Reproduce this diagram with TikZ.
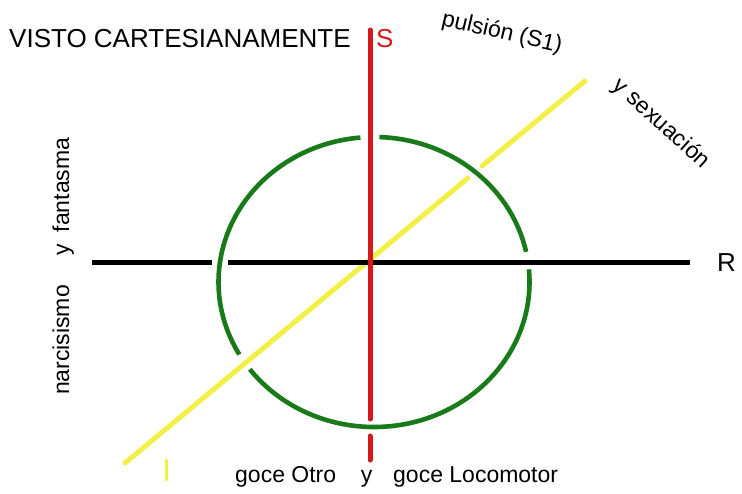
\documentclass[tikz,border=0pt]{standalone}
\usepackage{fontspec}
\setmainfont{Liberation Sans}
\definecolor{rojoS}{RGB}{214,24,28}
\definecolor{verdeO}{RGB}{24,122,24}
\definecolor{amarillo}{RGB}{242,240,70}
\tikzset{
  eje/.style={line width=5pt},
  rotulo/.style={font=\fontsize{23}{25}\selectfont, inner sep=0pt},
  titulo/.style={font=\fontsize{26}{29}\selectfont, inner sep=0pt},
}

\begin{document}
\begin{tikzpicture}[x=1pt,y=-1pt]
\useasboundingbox (0,0) rectangle (742,493);
% puntos de los ejes
\coordinate (Yi) at (125,463);
\coordinate (Ya) at (468,178);
\coordinate (Yb) at (482,166);
\coordinate (Yf) at (585,81);
\coordinate (Ri) at (92,262);
\coordinate (Ra) at (212,262);
\coordinate (Rb) at (228,262);
\coordinate (Rf) at (690,262);
\coordinate (Si) at (370,30);
\coordinate (Sa) at (370,419);
\coordinate (Sb) at (370,436);
\coordinate (Sf) at (370,460);
% el nudo verde, cortado donde pasa por debajo
\draw[eje, verdeO, line width=4.6pt] (374,282) ++(-88:155.5 and 145) arc[start angle=-88, end angle=-12, x radius=155.5, y radius=145];
\draw[eje, verdeO, line width=4.6pt] (374,282) ++(-5:155.5 and 145) arc[start angle=-5, end angle=143, x radius=155.5, y radius=145];
\draw[eje, verdeO, line width=4.6pt] (374,282) ++(150:155.5 and 145) arc[start angle=150, end angle=265, x radius=155.5, y radius=145];
% ejes
\draw[eje, amarillo, line cap=round] (Yi) -- (Ya) (Yb) -- (Yf);
\draw[amarillo, line width=3pt, line cap=round] (166,460) -- (166,480);
\draw[eje, black] (Ri) -- (Ra) (Rb) -- (Rf);
\draw[eje, rojoS, line cap=round] (Si) -- (Sa) (Sb) -- (Sf);
% textos
\node[titulo, anchor=base west] (visto) at (9,47) {VISTO CARTESIANAMENTE};
\node[titulo, anchor=base west, text=rojoS] (S) at (376,47) {S};
\node[titulo, anchor=base west] (R) at (717,271) {R};
\node[rotulo, rotate=-13] (pulsion) at (502,33) {pulsión (S1)};
\node[rotulo, rotate=-42] (sexuacion) at (661,124) {y sexuación};
\node[rotulo, rotate=90, anchor=base] (narc) at (69,340) {narcisismo};
\node[rotulo, rotate=90, anchor=base] (yizq) at (69,250) {y};
\node[rotulo, rotate=90, anchor=base] (fant) at (69,185) {fantasma};
\node[rotulo, anchor=base west] (gotro) at (235,482) {goce Otro};
\node[rotulo, anchor=base] (yabajo) at (366.5,482) {y};
\node[rotulo, anchor=base west] (gloco) at (393,482) {goce Locomotor};
\end{tikzpicture}
\end{document}
